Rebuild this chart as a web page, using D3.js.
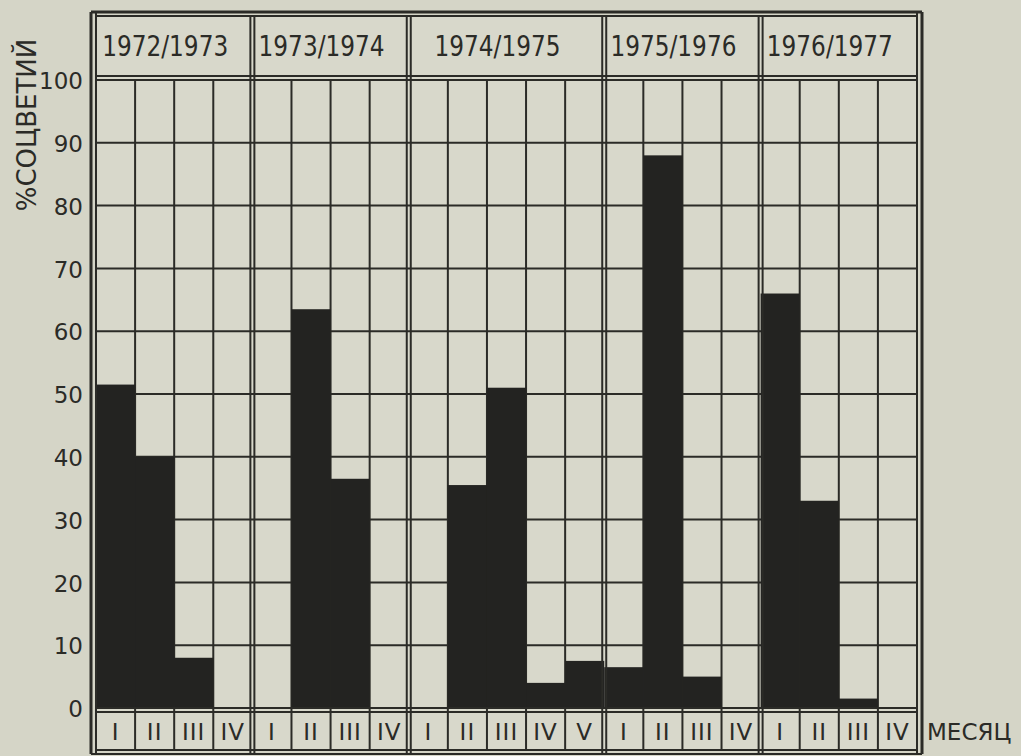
<!DOCTYPE html>
<html><head><meta charset="utf-8">
<script src="https://cdn.jsdelivr.net/npm/d3@7"></script>
<style>
html,body{margin:0;padding:0;background:#d5d5c7;}
svg{display:block;}
text{font-family:"DejaVu Sans",sans-serif;fill:#2b2b27;}
</style></head><body>
<svg id="chart" width="1021" height="756"></svg>
<script>
// ---- data ----
const seasons = ["1972/1973", "1973/1974", "1974/1975", "1975/1976", "1976/1977"];
const months1972 = ["I", "II", "III", "IV"];
const months1973 = ["I", "II", "III", "IV"];
const months1974 = ["I", "II", "III", "IV", "V"];
const months1975 = ["I", "II", "III", "IV"];
const months1976 = ["I", "II", "III", "IV"];
const values1972 = [51.5, 40, 8, 0];
const values1973 = [0, 63.5, 36.5, 0];
const values1974 = [0, 35.5, 51, 4, 7.5];
const values1975 = [6.5, 88, 5, 0];
const values1976 = [66, 33, 1.5, 0];
const yTicks = [0, 10, 20, 30, 40, 50, 60, 70, 80, 90, 100];
const yTitle = "%СОЦВЕТИЙ";
const xTitle = "МЕСЯЦ";

const monthSets = [months1972, months1973, months1974, months1975, months1976];
const valueSets = [values1972, values1973, values1974, values1975, values1976];

const cols = [];
seasons.forEach((s, gi) => {
  monthSets[gi].forEach((m, mi) => {
    cols.push({season: s, month: m, value: valueSets[gi][mi], key: s + "-" + m, g: gi, first: mi === 0});
  });
});

// ---- layout ----
const W = 1021, H = 756;
const left = 96, right = 917;
const topOuter = 12, topInner = 16;
const yZero = 708, yHundred = 80;
const monthTop = 712, monthBottom = 750, bottomOuter = 754;
const lineColor = "#2b2b27", barColor = "#232321";

const svg = d3.select("#chart");
svg.append("rect").attr("width", W).attr("height", H).attr("fill", "#d5d5c7");

const x = d3.scaleBand().domain(cols.map(d => d.key)).range([left, right]).paddingInner(0).paddingOuter(0);
const y = d3.scaleLinear().domain([0, 100]).range([yZero, yHundred]);
const bw = x.bandwidth();

svg.append("rect").attr("x", left).attr("y", topInner).attr("width", right - left).attr("height", monthBottom - topInner)
  .attr("fill", "#d8d8cb");

// horizontal grid lines
svg.append("g").selectAll("line").data(yTicks.filter(t => t > 0 && t < 100)).join("line")
  .attr("x1", left).attr("x2", right)
  .attr("y1", d => y(d)).attr("y2", d => y(d))
  .attr("stroke", lineColor).attr("stroke-width", 2);

// vertical column lines (inside groups)
const inner = cols.filter(d => !d.first);
svg.append("g").selectAll("line").data(inner).join("line")
  .attr("x1", d => x(d.key)).attr("x2", d => x(d.key))
  .attr("y1", y(100)).attr("y2", monthBottom)
  .attr("stroke", lineColor).attr("stroke-width", 2);

// bars
svg.append("g").selectAll("rect").data(cols.filter(d => d.value > 0)).join("rect")
  .attr("x", d => x(d.key)).attr("width", bw)
  .attr("y", d => y(d.value)).attr("height", d => y(0) - y(d.value))
  .attr("fill", barColor);

// horizontal frame lines
const hLines = [topOuter, topInner, y(100) - 4, y(100), y(0), monthTop, monthBottom, bottomOuter];
svg.append("g").selectAll("line").data(hLines).join("line")
  .attr("x1", (d, i) => (i === 0 || i === 7) ? left - 5 : left)
  .attr("x2", (d, i) => (i === 0 || i === 7) ? right + 5 : right)
  .attr("y1", d => d).attr("y2", d => d)
  .attr("stroke", lineColor).attr("stroke-width", (d, i) => i === 0 ? 3 : 2);

// group boundaries (double lines)
const bounds = cols.filter(d => d.first && d.g > 0).map(d => x(d.key));
const gb = svg.append("g");
bounds.forEach(b => {
  [-2, 2].forEach(o => {
    gb.append("line").attr("x1", b + o).attr("x2", b + o).attr("y1", topInner).attr("y2", bottomOuter)
      .attr("stroke", lineColor).attr("stroke-width", 2);
  });
});

// outer left / right frame (double)
[[left - 5, 3], [left, 2], [right, 2], [right + 5, 3]].forEach(([xx, w]) => {
  svg.append("line").attr("x1", xx).attr("x2", xx).attr("y1", topOuter).attr("y2", bottomOuter)
    .attr("stroke", lineColor).attr("stroke-width", w);
});

// season labels
seasons.forEach((s, gi) => {
  const gcols = cols.filter(d => d.g === gi);
  const x0 = x(gcols[0].key), x1 = x(gcols[gcols.length - 1].key) + bw;
  svg.append("text").attr("x", (x0 + x1) / 2 - 9).attr("y", 56)
    .attr("text-anchor", "middle").attr("font-size", 28)
    .attr("textLength", 126).attr("lengthAdjust", "spacingAndGlyphs")
    .text(s);
});

// month labels
svg.append("g").selectAll("text").data(cols).join("text")
  .attr("x", d => x(d.key) + bw / 2).attr("y", 740)
  .attr("text-anchor", "middle").attr("font-size", 23)
  .attr("letter-spacing", 1)
  .text(d => d.month);

// x title
svg.append("text").attr("x", right + 10).attr("y", 740).attr("font-size", 23).text(xTitle);

// y axis tick labels
const yAxis = d3.axisLeft(y).tickValues(yTicks).tickSize(0).tickPadding(13).tickFormat(d3.format("d"));
const ga = svg.append("g").attr("transform", `translate(${left},0)`).call(yAxis);
ga.select(".domain").remove();
ga.selectAll("text").attr("font-size", 23).attr("font-family", "DejaVu Sans, sans-serif").attr("fill", "#2b2b27").attr("dy", "0.38em");

// y title
svg.append("text").attr("transform", "translate(36,125) rotate(-90)")
  .attr("text-anchor", "middle").attr("font-size", 26).text(yTitle);
</script>
</body></html>
